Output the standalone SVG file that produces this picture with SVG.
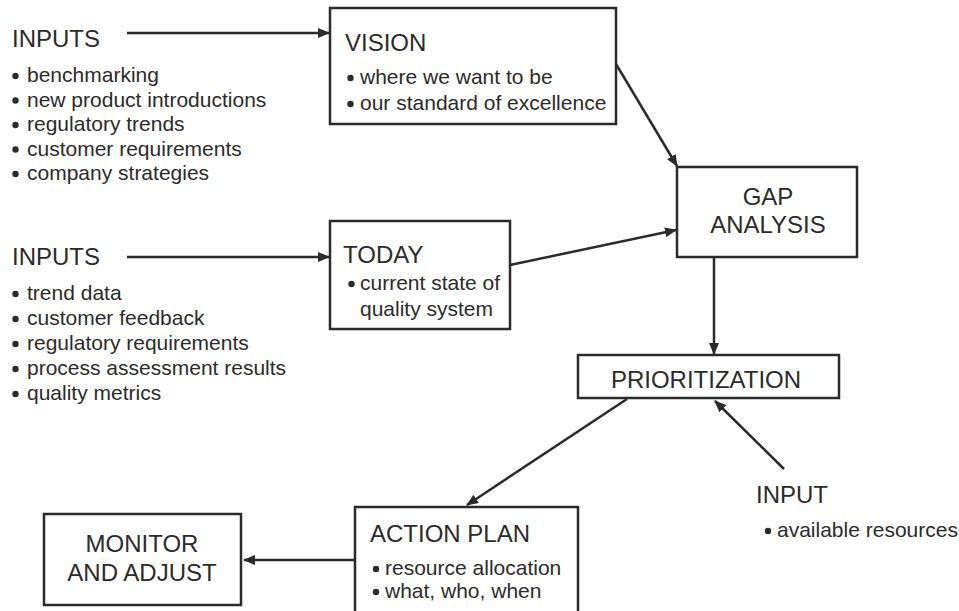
<svg xmlns="http://www.w3.org/2000/svg" width="959" height="611" viewBox="0 0 959 611">
<style>
.box{fill:#fff;stroke:#2b2b2b;stroke-width:2.5}
.h{font-family:"Liberation Sans",Arial,sans-serif;font-size:24px;fill:#2b2b2b}
.b{font-family:"Liberation Sans",Arial,sans-serif;font-size:21px;fill:#2b2b2b}
.dot{fill:#2b2b2b}
.c{stroke:#2b2b2b;stroke-width:2.5;fill:none;marker-end:url(#ah)}
</style>
<defs>
<marker id="ah" viewBox="0 0 12 10" refX="11" refY="5" markerWidth="12" markerHeight="10" markerUnits="userSpaceOnUse" orient="auto">
<path d="M0,0 L12,5 L0,10 z" fill="#2b2b2b"/>
</marker>
</defs>
<rect width="959" height="611" fill="#fff"/>
<g id="connectors">
<line class="c" x1="127" y1="33" x2="329" y2="33"/>
<line class="c" x1="127" y1="257" x2="329" y2="257"/>
<line class="c" x1="616" y1="64" x2="677" y2="166"/>
<line class="c" x1="510" y1="265" x2="676" y2="230"/>
<line class="c" x1="714" y1="257" x2="714" y2="354"/>
<line class="c" x1="627" y1="399" x2="467" y2="505"/>
<line class="c" x1="784" y1="469" x2="715" y2="401"/>
<line class="c" x1="355" y1="560" x2="244" y2="560"/>
</g>
<g id="inputs1">
<text class="h" x="12" y="47">INPUTS</text>
<circle class="dot" cx="15.5" cy="76" r="3.2"/><text class="b" x="27" y="82">benchmarking</text>
<circle class="dot" cx="15.5" cy="100.5" r="3.2"/><text class="b" x="27" y="106.5">new product introductions</text>
<circle class="dot" cx="15.5" cy="125" r="3.2"/><text class="b" x="27" y="131">regulatory trends</text>
<circle class="dot" cx="15.5" cy="149.5" r="3.2"/><text class="b" x="27" y="155.5">customer requirements</text>
<circle class="dot" cx="15.5" cy="174" r="3.2"/><text class="b" x="27" y="180">company strategies</text>
</g>
<g id="inputs2">
<text class="h" x="12" y="265">INPUTS</text>
<circle class="dot" cx="15.5" cy="294" r="3.2"/><text class="b" x="27" y="300">trend data</text>
<circle class="dot" cx="15.5" cy="319" r="3.2"/><text class="b" x="27" y="325">customer feedback</text>
<circle class="dot" cx="15.5" cy="344" r="3.2"/><text class="b" x="27" y="350">regulatory requirements</text>
<circle class="dot" cx="15.5" cy="369" r="3.2"/><text class="b" x="27" y="375">process assessment results</text>
<circle class="dot" cx="15.5" cy="394" r="3.2"/><text class="b" x="27" y="400">quality metrics</text>
</g>
<g id="vision">
<rect class="box" x="330" y="8" width="286" height="116"/>
<text class="h" x="345" y="51">VISION</text>
<circle class="dot" cx="350.5" cy="78" r="3.2"/><text class="b" x="360" y="84">where we want to be</text>
<circle class="dot" cx="350.5" cy="104" r="3.2"/><text class="b" x="360" y="110">our standard of excellence</text>
</g>
<g id="today">
<rect class="box" x="330" y="221" width="180" height="108"/>
<text class="h" x="343" y="263">TODAY</text>
<circle class="dot" cx="351.5" cy="284" r="3.2"/><text class="b" x="360" y="290">current state of</text>
<text class="b" x="360" y="316">quality system</text>
</g>
<g id="gap">
<rect class="box" x="677" y="167" width="180" height="90"/>
<text class="h" x="768" y="205" text-anchor="middle">GAP</text>
<text class="h" x="768" y="233" text-anchor="middle">ANALYSIS</text>
</g>
<g id="prioritization">
<rect class="box" x="578" y="355" width="261" height="43"/>
<text class="h" x="706" y="388" text-anchor="middle">PRIORITIZATION</text>
</g>
<g id="input3">
<text class="h" x="756" y="503">INPUT</text>
<circle class="dot" cx="768" cy="531" r="3.2"/><text class="b" x="777" y="537">available resources</text>
</g>
<g id="action">
<rect class="box" x="355" y="507" width="223" height="115"/>
<text class="h" x="370" y="542">ACTION PLAN</text>
<circle class="dot" cx="376" cy="569" r="3.2"/><text class="b" x="385" y="575">resource allocation</text>
<circle class="dot" cx="376" cy="592" r="3.2"/><text class="b" x="385" y="598">what, who, when</text>
</g>
<g id="monitor">
<rect class="box" x="44" y="514" width="197" height="91"/>
<text class="h" x="142" y="552" text-anchor="middle">MONITOR</text>
<text class="h" x="142" y="581" text-anchor="middle">AND ADJUST</text>
</g>
</svg>
